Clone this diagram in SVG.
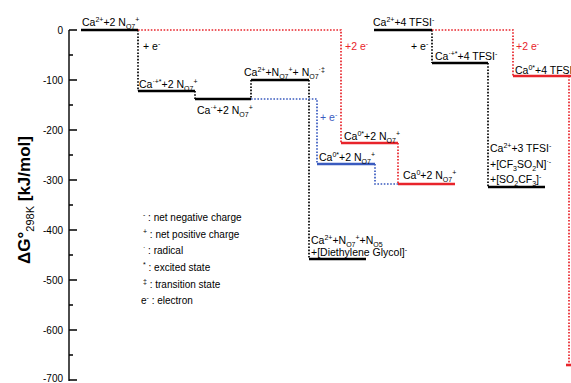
<svg xmlns="http://www.w3.org/2000/svg" width="571" height="383" viewBox="0 0 571 383">
<style>
text{font-family:"Liberation Sans",Arial,sans-serif;font-size:10.5px;fill:#000}
.sp{font-size:7px;baseline-shift:4px}
.sb{font-size:7px;baseline-shift:-2.5px}
.tick{font-size:10px;text-anchor:end}
.leg{font-size:10px}
.red{fill:#e8242b}
.blue{fill:#3a5bbf}
.lv{stroke:#000;stroke-width:2.6;fill:none}
.lvr{stroke:#e8242b;stroke-width:2.6;fill:none}
.lvb{stroke:#3a5bbf;stroke-width:2.6;fill:none}
.dk{stroke:#000;stroke-width:1.7;stroke-dasharray:1.6 1.6;fill:none}
.dr{stroke:#e8242b;stroke-width:1.7;stroke-dasharray:1.6 1.6;fill:none}
.db{stroke:#3a5bbf;stroke-width:1.7;stroke-dasharray:1.6 1.6;fill:none}
.ax{stroke:#000;stroke-width:1.4;fill:none}
</style>
<rect width="571" height="383" fill="#fff"/>
<g id="axis">
<path class="ax" d="M69,30V381"/>
<path class="ax" d="M69,30H77M69,80H77M69,130H77M69,180H77M69,230H77M69,280H77M69,330H77M69,380H77"/>
<path class="ax" d="M69,55H73M69,105H73M69,155H73M69,205H73M69,255H73M69,305H73M69,355H73"/>
<text class="tick" x="63" y="34">0</text>
<text class="tick" x="63" y="84">-100</text>
<text class="tick" x="63" y="134">-200</text>
<text class="tick" x="63" y="184">-300</text>
<text class="tick" x="63" y="234">-400</text>
<text class="tick" x="63" y="284">-500</text>
<text class="tick" x="63" y="334">-600</text>
<text class="tick" x="63" y="382">-700</text>
<text transform="translate(30,200) rotate(-90)" text-anchor="middle" style="font-size:17px;font-weight:bold">ΔG°<tspan style="font-size:11px;font-weight:normal;baseline-shift:-4px">298K</tspan> [kJ/mol]</text>
</g>
<g id="connectors">
<path class="dk" d="M138,30V91"/>
<path class="dk" d="M195,91V99"/>
<path class="dk" d="M251,80V99"/>
<path class="dk" d="M309,80V259"/>
<path class="dk" d="M432,30V63"/>
<path class="dk" d="M488,63V187"/>
<path class="db" d="M251,99H317V164"/>
<path class="db" d="M375,164V184H398"/>
<path class="dr" d="M138,30H341V143"/>
<path class="dr" d="M398,143V184"/>
<path class="dr" d="M432,30H513V76"/>
<path class="dr" d="M569,76V365"/>
<text x="143" y="50">+ e<tspan class="sp">-</tspan></text>
<text class="blue" x="320" y="121">+ e<tspan class="sp">-</tspan></text>
<text class="red" x="345" y="50">+2 e<tspan class="sp">-</tspan></text>
<text x="411" y="50">+ e<tspan class="sp">-</tspan></text>
<text class="red" x="516" y="50">+2 e<tspan class="sp">-</tspan></text>
</g>
<g id="n1">
<path class="lv" d="M81,30H138"/>
<text x="82" y="26">Ca<tspan class="sp">2+</tspan>+2 N<tspan class="sb">O7</tspan><tspan class="sp">+</tspan></text>
</g>
<g id="n2">
<path class="lv" d="M138,91H195"/>
<text x="139" y="88">Ca<tspan class="sp">·+*</tspan>+2 N<tspan class="sb">O7</tspan><tspan class="sp">+</tspan></text>
</g>
<g id="n3">
<path class="lv" d="M195,99H251"/>
<text x="197" y="114">Ca<tspan class="sp">·+</tspan>+2 N<tspan class="sb">O7</tspan><tspan class="sp">+</tspan></text>
</g>
<g id="n4">
<path class="lv" d="M251,80H309"/>
<text x="244" y="76">Ca<tspan class="sp">2+</tspan>+N<tspan class="sb">O7</tspan><tspan class="sp">+</tspan>+ N<tspan class="sb">O7</tspan><tspan class="sp">·‡</tspan></text>
</g>
<g id="n5">
<path class="lvb" d="M317,164H375"/>
<text x="319" y="161">Ca<tspan class="sp">0*</tspan>+2 N<tspan class="sb">O7</tspan><tspan class="sp">+</tspan></text>
</g>
<g id="n6">
<path class="lvr" d="M341,143H398"/>
<text x="344" y="140">Ca<tspan class="sp">0*</tspan>+2 N<tspan class="sb">O7</tspan><tspan class="sp">+</tspan></text>
</g>
<g id="n7">
<path class="lvr" d="M398,184H455"/>
<text x="403" y="179">Ca<tspan class="sp">0</tspan>+2 N<tspan class="sb">O7</tspan><tspan class="sp">+</tspan></text>
</g>
<g id="n8">
<path class="lv" d="M309,259H366"/>
<text x="311" y="244">Ca<tspan class="sp">2+</tspan>+N<tspan class="sb">O7</tspan><tspan class="sp">+</tspan>+N<tspan class="sb">O5</tspan></text>
<text x="311" y="256">+[Diethylene Glycol]<tspan class="sp">-</tspan></text>
</g>
<g id="n9">
<path class="lv" d="M374,30H432"/>
<text x="373" y="26">Ca<tspan class="sp">2+</tspan>+4 TFSI<tspan class="sp">-</tspan></text>
</g>
<g id="n10">
<path class="lv" d="M432,63H488"/>
<text x="435" y="60">Ca<tspan class="sp">·+*</tspan>+4 TFSI<tspan class="sp">-</tspan></text>
</g>
<g id="n11">
<path class="lv" d="M488,187H545"/>
<text x="490" y="152">Ca<tspan class="sp">2+</tspan>+3 TFSI<tspan class="sp">-</tspan></text>
<text x="490" y="168">+[CF<tspan class="sb">3</tspan>SO<tspan class="sb">2</tspan>N]<tspan class="sp">·-</tspan></text>
<text x="490" y="183">+[SO<tspan class="sb">2</tspan>CF<tspan class="sb">3</tspan>]<tspan class="sp">-</tspan></text>
</g>
<g id="n12">
<path class="lvr" d="M513,76H571"/>
<text x="515" y="74">Ca<tspan class="sp">0*</tspan>+4 TFSI</text>
</g>
<g id="n13">
<path class="lvr" d="M566,365H571"/>
</g>
<g id="legend">
<text class="leg" x="143" y="221"><tspan class="sp">-</tspan> : net negative charge</text>
<text class="leg" x="143" y="238"><tspan class="sp">+</tspan> : net positive charge</text>
<text class="leg" x="143" y="254"><tspan class="sp">·</tspan> : radical</text>
<text class="leg" x="143" y="271"><tspan class="sp">*</tspan> : excited state</text>
<text class="leg" x="143" y="288"><tspan class="sp">‡</tspan> : transition state</text>
<text class="leg" x="141" y="304">e<tspan class="sp">-</tspan> : electron</text>
</g>
</svg>
